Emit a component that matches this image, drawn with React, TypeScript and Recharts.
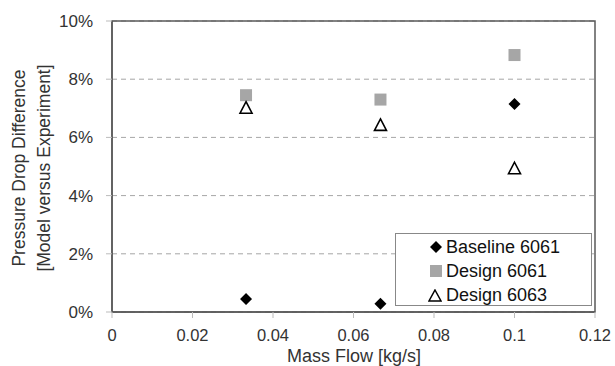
import React from "react";
import { ScatterChart, Scatter, XAxis, YAxis, CartesianGrid, Legend, ReferenceArea } from "recharts";

const massFlow = [0.0333, 0.0667, 0.1];
const baseline6061 = [0.45, 0.28, 7.15];
const design6061 = [7.45, 7.3, 8.83];
const design6063 = [7.02, 6.43, 4.94];
const xTicks = [0, 0.02, 0.04, 0.06, 0.08, 0.1, 0.12];
const yTicks = [0, 2, 4, 6, 8, 10];
const seriesNames = ["Baseline 6061", "Design 6061", "Design 6063"];

const toPoints = (ys: number[]) => massFlow.map((x, i) => ({ x, y: ys[i] }));

const FONT = "'Liberation Sans', Arial, sans-serif";
const TXT = "#333";
const AX = "#595959";

const Diamond = (p: any) => {
  const { cx, cy } = p;
  const r = 6;
  return <path d={`M${cx},${cy - r}L${cx + r},${cy}L${cx},${cy + r}L${cx - r},${cy}Z`} fill="#000" />;
};
const Square = (p: any) => {
  const { cx, cy } = p;
  return <rect x={cx - 6} y={cy - 6} width={12} height={12} fill="#a6a6a6" />;
};
const Tri = (p: any) => {
  const { cx, cy } = p;
  return (
    <path
      d={`M${cx},${cy - 6}L${cx + 6},${cy + 5.5}L${cx - 6},${cy + 5.5}Z`}
      fill="#fff"
      stroke="#000"
      strokeWidth={1.6}
    />
  );
};

const icons = [
  <svg width={12} height={12} key="a"><path d="M6,0L12,6L6,12L0,6Z" fill="#000" /></svg>,
  <svg width={12} height={12} key="b"><rect x={0} y={0} width={12} height={12} fill="#a6a6a6" /></svg>,
  <svg width={14} height={13} key="c"><path d="M7,1L13,12L1,12Z" fill="#fff" stroke="#000" strokeWidth={1.5} /></svg>,
];

const LegendBox = () => (
  <div
    style={{
      width: 197,
      height: 73,
      border: "1.5px solid #888",
      background: "#fff",
      boxSizing: "border-box",
      fontFamily: FONT,
      fontSize: 18,
      color: "#111",
      paddingTop: 1,
    }}
  >
    {seriesNames.map((n, i) => (
      <div key={n} style={{ display: "flex", alignItems: "center", height: 24, paddingLeft: 27 }}>
        <span style={{ width: 19, display: "inline-flex", justifyContent: "flex-end" }}>{icons[i]}</span>
        <span style={{ marginLeft: 4 }}>{n}</span>
      </div>
    ))}
  </div>
);

export default function App() {
  return (
    <div style={{ position: "absolute", left: 0, top: 0, width: 615, height: 366, background: "#fff" }}>
      <ScatterChart
        width={615}
        height={366}
        margin={{ top: 21, right: 20, bottom: 0, left: 0 }}
        style={{ fontFamily: FONT }}
      >
        <CartesianGrid horizontal vertical={false} stroke="#a6a6a6" strokeDasharray="5 4" />
        <XAxis
          type="number"
          dataKey="x"
          domain={[0, 0.12]}
          ticks={xTicks}
          tickFormatter={(v: number) => String(v)}
          height={54}
          stroke={AX}
          strokeWidth={1.5}
          tickLine={{ stroke: "#bbb", strokeWidth: 1 }}
          tickSize={6}
          tick={{ fill: TXT, fontSize: 16.5, fontFamily: FONT }}
          tickMargin={11}
          interval={0}
        />
        <YAxis
          type="number"
          dataKey="y"
          domain={[0, 10]}
          ticks={yTicks}
          tickFormatter={(v: number) => `${v}%`}
          width={112}
          stroke={AX}
          strokeWidth={1.5}
          tickLine={{ stroke: "#bbb", strokeWidth: 1 }}
          tickSize={6}
          tick={{ fill: TXT, fontSize: 17, fontFamily: FONT }}
          tickMargin={13}
          interval={0}
        />
        <ReferenceArea x1={0} x2={0.12} y1={0} y2={10} fill="none" stroke={AX} strokeWidth={1.5} ifOverflow="visible" />
        <Legend
          layout="horizontal"
          verticalAlign="middle"
          align="center"
          wrapperStyle={{ position: "absolute", left: 395, top: 233, width: 197, height: 73 }}
          content={() => <LegendBox />}
        />
        <Scatter name={seriesNames[0]} data={toPoints(baseline6061)} shape={Diamond} isAnimationActive={false} />
        <Scatter name={seriesNames[1]} data={toPoints(design6061)} shape={Square} isAnimationActive={false} />
        <Scatter name={seriesNames[2]} data={toPoints(design6063)} shape={Tri} isAnimationActive={false} />
      </ScatterChart>
      <svg width={615} height={366} style={{ position: "absolute", left: 0, top: 0, pointerEvents: "none" }}>
        <text x={354} y={362} textAnchor="middle" fontFamily={FONT} fontSize={18} fill={TXT}>
          Mass Flow [kg/s]
        </text>
        <text transform="translate(19,168) rotate(-90)" textAnchor="middle" dominantBaseline="central" fontFamily={FONT} fontSize={17.5} fill={TXT}>
          Pressure Drop Difference
        </text>
        <text transform="translate(44,168) rotate(-90)" textAnchor="middle" dominantBaseline="central" fontFamily={FONT} fontSize={17.5} fill={TXT}>
          [Model versus Experiment]
        </text>
      </svg>
    </div>
  );
}
